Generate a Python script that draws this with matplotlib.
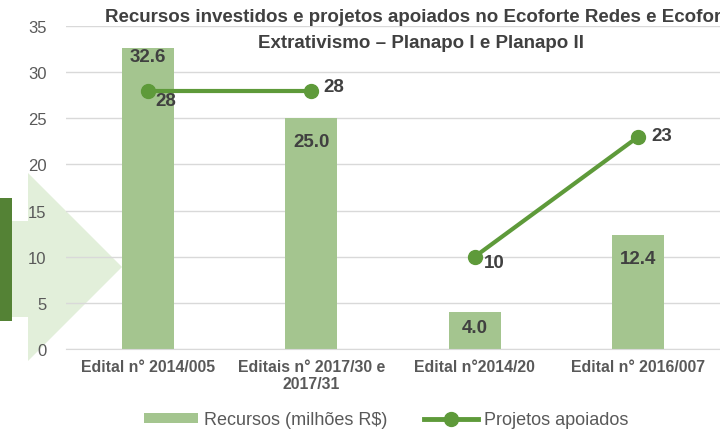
import numpy as np
import matplotlib.pyplot as plt
from matplotlib.patches import Polygon, Rectangle
from matplotlib.lines import Line2D

# dados
categorias = ['Edital n° 2014/005', 'Editais n° 2017/30 e\n2017/31',
              'Edital n°2014/20', 'Edital n° 2016/007']
recursos = [32.6, 25.0, 4.0, 12.4]
projetos = [28, 28, 10, 23]
rot_recursos = ['32.6', '25.0', '4.0', '12.4']

cor_barra = '#A4C58F'
cor_linha = '#5E9A3A'
cor_texto = '#404040'
cor_eixo = '#595959'

plt.rcParams['font.family'] = ['Liberation Sans', 'DejaVu Sans']

fig = plt.figure(figsize=(7.2, 4.31), dpi=100)
fig.patch.set_facecolor('white')

# seta decorativa ao fundo (coordenadas em pixels da figura)
W, H = 720.0, 431.0
seta = Polygon([(12/W, 1-222/H), (28/W, 1-222/H), (28/W, 1-174/H), (122/W, 1-268/H),
                (28/W, 1-362/H), (28/W, 1-318/H), (12/W, 1-318/H)],
               closed=True, transform=fig.transFigure, facecolor='#E2EFDA',
               edgecolor='none', zorder=-2)
fig.patches.append(seta)
fig.patches.append(Rectangle((0, 1-322/H), 12/W, 123/H, transform=fig.transFigure,
                             facecolor='#548235', edgecolor='none', zorder=-2))

ax = fig.add_axes([66/W, 1-350/H, 1-66/W, 323/H])
ax.set_facecolor('none')

x = np.arange(len(categorias))
ax.bar(x, recursos, width=0.32, color=cor_barra, zorder=2)

# linha em dois trechos
ax.plot(x[:2], projetos[:2], color=cor_linha, lw=3, marker='o', ms=10, zorder=3)
ax.plot(x[2:], projetos[2:], color=cor_linha, lw=3, marker='o', ms=10, zorder=3)

ax.set_xlim(-0.5, 3.5)
ax.set_ylim(0, 35)
ax.set_yticks(range(0, 36, 5))
ax.grid(axis='y', color='#D9D9D9', lw=1, zorder=1)
ax.set_axisbelow(True)
for s in ['left', 'right', 'top']:
    ax.spines[s].set_visible(False)
ax.spines['bottom'].set_color('#D9D9D9')
ax.tick_params(axis='both', length=0)
ax.tick_params(axis='y', labelsize=12, labelcolor=cor_eixo, pad=14)
ax.set_xticks(x)
ax.set_xticklabels(categorias, fontsize=11.4, fontweight='bold', color=cor_eixo,
                   linespacing=1.2)
ax.tick_params(axis='x', pad=7)

# rótulos das barras
desloc_barra = [-6, -17, -11, -17]
for xi, v, t, d in zip(x, recursos, rot_recursos, desloc_barra):
    ax.annotate(t, (xi, v), xytext=(0, d), textcoords='offset points',
                ha='center', va='center', fontsize=13.5, fontweight='bold',
                color=cor_texto, zorder=4)

# rótulos da linha
desloc_linha = [(13, -7), (16, 3), (14, -4), (17, 1)]
for xi, v, d in zip(x, projetos, desloc_linha):
    ax.annotate(str(v), (xi, v), xytext=d, textcoords='offset points',
                ha='center', va='center', fontsize=13.5, fontweight='bold',
                color=cor_texto, zorder=4)

fig.text(421/W, 1-18/H,
         'Recursos investidos e projetos apoiados no Ecoforte Redes e Ecoforte',
         ha='center', va='center', fontsize=13.5, fontweight='bold', color=cor_texto)
fig.text(421/W, 1-44/H, 'Extrativismo – Planapo I e Planapo II',
         ha='center', va='center', fontsize=13.5, fontweight='bold', color=cor_texto)

h_barra = Rectangle((0, 0), 1, 1, facecolor=cor_barra, edgecolor='none')
h_linha = Line2D([], [], color=cor_linha, lw=3.5, marker='o', ms=10)
fig.legend([h_barra, h_linha], ['Recursos (milhões R$)', 'Projetos apoiados'],
           loc='center', bbox_to_anchor=(386/W, 1-421/H), ncol=2, frameon=False,
           fontsize=13, labelcolor=cor_eixo, handlelength=3.0, handleheight=0.4,
           handletextpad=0.35, columnspacing=2.0)

fig.savefig('out.png', dpi=100)
